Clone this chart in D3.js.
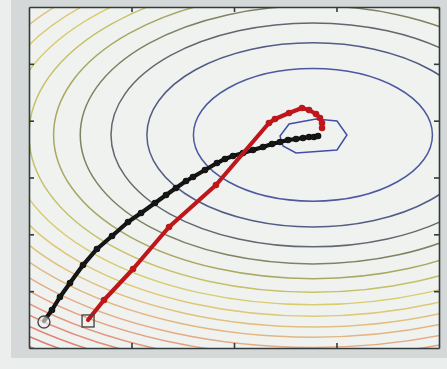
<!DOCTYPE html>
<html>
<head>
<meta charset="utf-8">
<script src="https://cdn.jsdelivr.net/npm/d3@7"></script>
<style>
  html, body { margin: 0; padding: 0; background: #eceeee; }
  svg { display: block; }
</style>
</head>
<body>
<svg id="chart" width="447" height="369"></svg>
<script>
// ---------------- data ----------------
const xTicks = [1, 2, 3];
const yTicks = [1, 2, 3, 4, 5];
const contourCenter = [2.77, 3.75];
// radii of the contour rings (data units), innermost ring drawn as polygon
const contourRadii = [1.166, 1.62, 1.97, 2.27, 2.53, 2.77, 2.99, 3.19, 3.38, 3.56, 3.74, 3.90, 4.06, 4.21, 4.36, 4.50, 4.64];
const contourColors = ["#4d58a0", "#535d84", "#62676f", "#7e8262", "#a8a862", "#c6c068", "#d8cc70", "#dec878", "#e0c07e", "#e2b684", "#e4ac86", "#e4a284", "#e49880", "#e28e7c", "#e08478", "#de7c74", "#dc7470"];
const innerRingX = [2.449, 2.537, 2.800, 3.005, 3.102, 3.005, 2.605, 2.478];
const innerRingY = [3.730, 3.942, 4.030, 3.994, 3.748, 3.484, 3.431, 3.554];
const innerRingColor = "#4250a4";

const blackX = [0.146, 0.224, 0.302, 0.400, 0.527, 0.663, 0.810, 0.966, 1.093, 1.229, 1.337, 1.434, 1.532, 1.600, 1.717, 1.834, 1.912, 1.990, 2.088, 2.185, 2.283, 2.371, 2.449, 2.527, 2.605, 2.673, 2.732, 2.780, 2.820];
const blackY = [0.475, 0.669, 0.897, 1.144, 1.460, 1.742, 1.971, 2.217, 2.376, 2.551, 2.692, 2.815, 2.939, 3.009, 3.132, 3.255, 3.326, 3.378, 3.431, 3.484, 3.537, 3.590, 3.625, 3.660, 3.678, 3.695, 3.713, 3.713, 3.730];
const redX = [0.576, 0.732, 1.015, 1.366, 1.824, 2.341, 2.400, 2.537, 2.663, 2.732, 2.800, 2.839, 2.859, 2.859];
const redY = [0.493, 0.845, 1.390, 2.129, 2.868, 3.959, 4.030, 4.135, 4.223, 4.188, 4.118, 4.047, 3.959, 3.871];

// ---------------- drawing ----------------
const svg = d3.select("#chart");
const x = d3.scaleLinear().domain([0, 4]).range([29, 439]);
const y = d3.scaleLinear().domain([0, 6]).range([348, 7]);

// photo-like backdrop
svg.append("rect").attr("x", 0).attr("y", 0).attr("width", 447).attr("height", 369).attr("fill", "#eceeee");
svg.append("rect").attr("x", 11).attr("y", 0).attr("width", 436).attr("height", 358).attr("fill", "#d5d8d8");
svg.append("rect").attr("x", x(0)).attr("y", y(6)).attr("width", x(4) - x(0)).attr("height", y(0) - y(6)).attr("fill", "#f0f2f0");

const defs = svg.append("defs");
defs.append("clipPath").attr("id", "plotclip")
  .append("rect").attr("x", x(0)).attr("y", y(6)).attr("width", x(4) - x(0)).attr("height", y(0) - y(6));
const blur = defs.append("filter").attr("id", "soft").attr("x", "-5%").attr("y", "-5%").attr("width", "110%").attr("height", "110%");
blur.append("feGaussianBlur").attr("stdDeviation", 0.6);

const plot = svg.append("g").attr("clip-path", "url(#plotclip)").attr("filter", "url(#soft)");

const [cx, cy] = contourCenter;
plot.selectAll("ellipse.ring").data(contourRadii).join("ellipse")
  .attr("class", "ring")
  .attr("cx", x(cx)).attr("cy", y(cy))
  .attr("rx", r => x(cx + r) - x(cx))
  .attr("ry", r => y(cy - r) - y(cy))
  .attr("fill", "none")
  .attr("stroke", (r, i) => contourColors[i])
  .attr("stroke-width", 1.5);

const inner = innerRingX.map((v, i) => [v, innerRingY[i]]);
plot.append("path")
  .attr("d", d3.line().x(d => x(d[0])).y(d => y(d[1])).curve(d3.curveLinearClosed)(inner))
  .attr("fill", "none").attr("stroke", innerRingColor).attr("stroke-width", 1.5);

function drawPath(xs, ys, color) {
  const pts = xs.map((v, i) => [v, ys[i]]);
  plot.append("path")
    .attr("d", d3.line().x(d => x(d[0])).y(d => y(d[1])).curve(d3.curveLinear)(pts))
    .attr("fill", "none").attr("stroke", color).attr("stroke-width", 4.2)
    .attr("stroke-linejoin", "round").attr("stroke-linecap", "round");
  plot.selectAll(null).data(pts.slice(1)).join("circle")
    .attr("cx", d => x(d[0])).attr("cy", d => y(d[1])).attr("r", 3.3)
    .attr("fill", color);
}
drawPath(blackX, blackY, "#121212");
drawPath(redX, redY, "#bf181b");

// start markers
plot.append("circle").attr("cx", x(blackX[0])).attr("cy", y(blackY[0]) + 1).attr("r", 6)
  .attr("fill", "#f0f2f0").attr("fill-opacity", 0.6).attr("stroke", "#4a4a4a").attr("stroke-width", 1.4);
plot.append("rect").attr("x", x(redX[0]) - 6).attr("y", y(redY[0]) - 5).attr("width", 12).attr("height", 12)
  .attr("fill", "none").attr("stroke", "#4a4a4a").attr("stroke-width", 1.4);

// axes (inward ticks, no labels)
const axG = svg.append("g").attr("filter", "url(#soft)");
axG.append("g").attr("transform", `translate(0,${y(0)})`)
  .call(d3.axisBottom(x).tickValues(xTicks).tickSizeInner(-5).tickSizeOuter(0).tickFormat(""));
axG.append("g").attr("transform", `translate(0,${y(6)})`)
  .call(d3.axisTop(x).tickValues(xTicks).tickSizeInner(-5).tickSizeOuter(0).tickFormat(""));
axG.append("g").attr("transform", `translate(${x(0)},0)`)
  .call(d3.axisLeft(y).tickValues(yTicks).tickSizeInner(-5).tickSizeOuter(0).tickFormat(""));
axG.append("g").attr("transform", `translate(${x(4)},0)`)
  .call(d3.axisRight(y).tickValues(yTicks).tickSizeInner(-5).tickSizeOuter(0).tickFormat(""));
axG.selectAll(".domain, .tick line").attr("stroke", "#333a3a").attr("stroke-width", 1.6);
</script>
</body>
</html>
